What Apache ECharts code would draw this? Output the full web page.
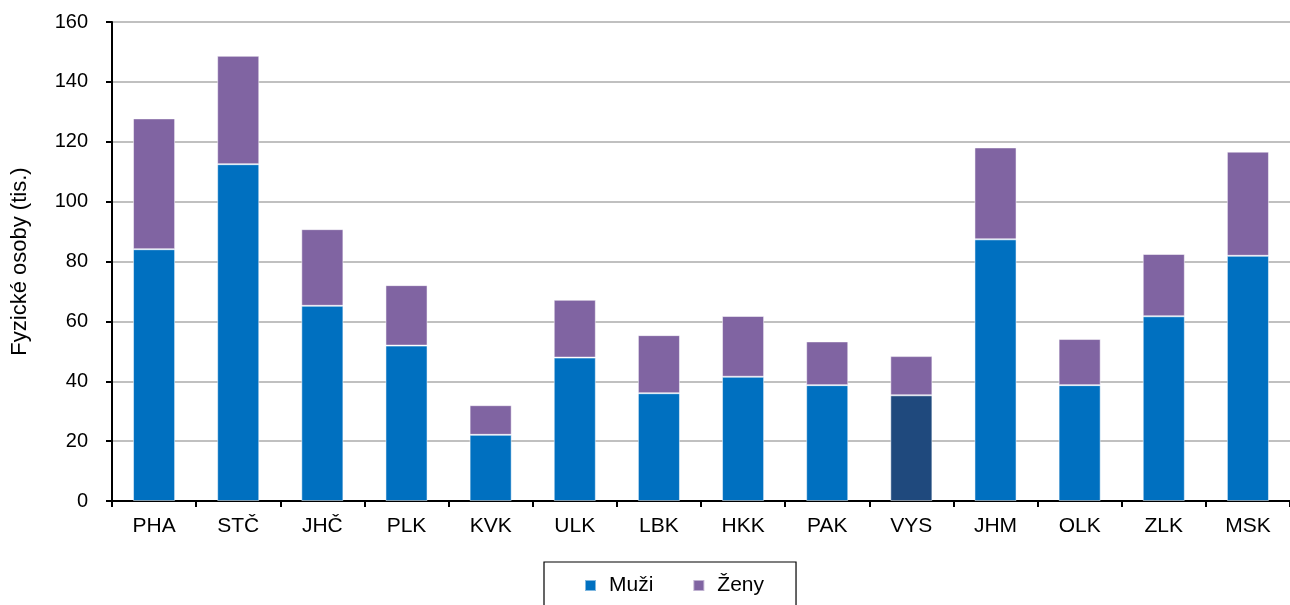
<!DOCTYPE html>
<html>
<head>
<meta charset="utf-8">
<script src="https://cdn.jsdelivr.net/npm/echarts@6/dist/echarts.min.js"></script>
<style>html,body{margin:0;padding:0;background:#fff;}#c{width:1290px;height:605px;}</style>
</head>
<body>
<div id="c"></div>
<script>
const categories = ['PHA','STČ','JHČ','PLK','KVK','ULK','LBK','HKK','PAK','VYS','JHM','OLK','ZLK','MSK'];
const muzi = [84.1,112.5,65.2,51.9,22.1,47.9,36.0,41.5,38.7,35.3,87.4,38.7,61.7,81.9];
const zeny = [43.7,36.2,25.6,20.2,9.9,19.3,19.4,20.3,14.6,13.1,30.7,15.4,20.8,34.8];
const yTicks = [0,20,40,60,80,100,120,140,160];
const highlight = 'VYS';

const chart = echarts.init(document.getElementById('c'), null, {renderer:'canvas'});
const font = 'Liberation Sans, Arial, sans-serif';
chart.setOption({
  animation:false,
  textStyle:{fontFamily:font},
  grid:{left:112, right:0, top:22, bottom:104, containLabel:false},
  legend:{
    left:544, top:562,
    data:['Muži','Ženy'],
    orient:'horizontal',
    itemWidth:11, itemHeight:11, itemGap:39,
    icon:'rect',
    padding:[13,32,22,40],
    borderColor:'#000', borderWidth:1.2,
    textStyle:{fontSize:21, color:'#000', fontFamily:font, padding:[0,0,0,8]}
  },
  xAxis:{
    type:'category', data:categories,
    axisLine:{lineStyle:{color:'#000', width:2}},
    axisTick:{show:true, length:6, lineStyle:{color:'#000', width:2}},
    axisLabel:{fontSize:21, color:'#000', margin:15, fontFamily:font}
  },
  yAxis:{
    type:'value', min:yTicks[0], max:yTicks[yTicks.length-1], interval:20,
    name:'Fyzické osoby (tis.)', nameLocation:'middle', nameGap:81, nameRotate:90,
    nameTextStyle:{fontSize:22, color:'#000', fontFamily:font},
    axisLine:{show:true, lineStyle:{color:'#000', width:2}},
    axisTick:{show:true, length:6, lineStyle:{color:'#000', width:2}},
    axisLabel:{fontSize:20, color:'#000', margin:24, fontFamily:font},
    splitLine:{lineStyle:{color:'#c0c0c0', width:2}}
  },
  series:[
    {name:'Muži', type:'bar', stack:'a', barWidth:'50%',
     itemStyle:{color:'#0070c0', borderColor:'rgba(255,255,255,0.5)', borderWidth:1},
     data:muzi.map((v,i)=> categories[i]===highlight ? {value:v, itemStyle:{color:'#1f497d'}} : v)},
    {name:'Ženy', type:'bar', stack:'a', barWidth:'50%',
     itemStyle:{color:'#8064a2', borderColor:'rgba(255,255,255,0.5)', borderWidth:1},
     data:zeny}
  ]
});
</script>
</body>
</html>
